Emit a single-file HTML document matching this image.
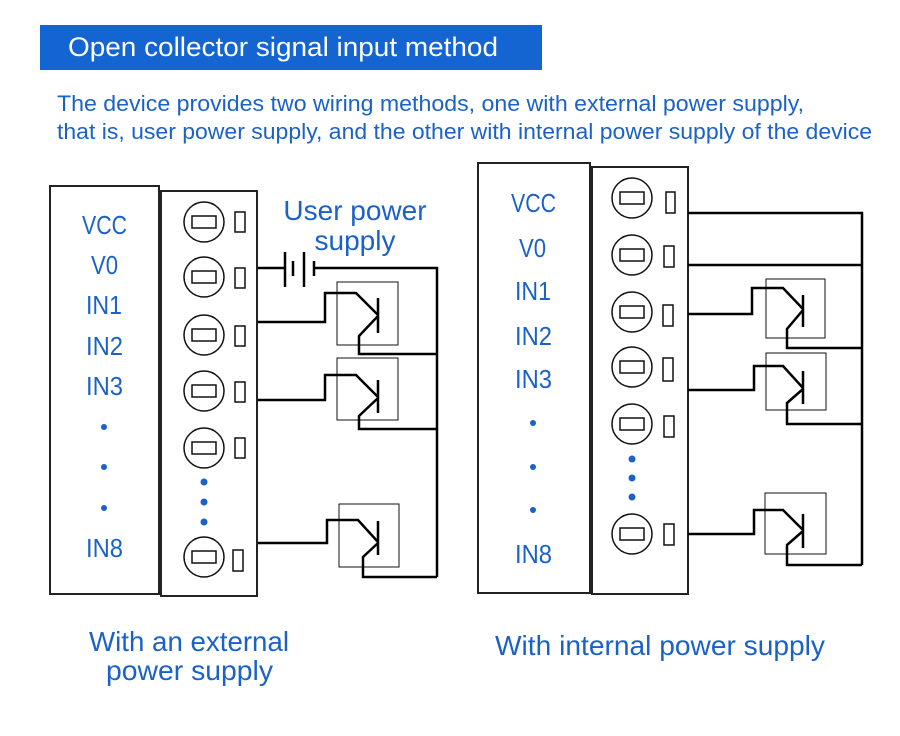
<!DOCTYPE html>
<html><head><meta charset="utf-8"><style>
html,body{margin:0;padding:0;background:#fff;}
svg{display:block;}
text{font-family:"Liberation Sans",sans-serif;}
</style></head><body>
<svg width="900" height="736" viewBox="0 0 900 736" xmlns="http://www.w3.org/2000/svg">
<rect x="40" y="25" width="502" height="45" fill="#1464d2"/>
<text x="68" y="56" font-size="27" fill="#fff" textLength="430" lengthAdjust="spacingAndGlyphs">Open collector signal input method</text>
<g fill="#1a62c8" font-size="22">
<text x="57" y="111" textLength="747" lengthAdjust="spacingAndGlyphs">The device provides two wiring methods, one with external power supply,</text>
<text x="57" y="139" textLength="815" lengthAdjust="spacingAndGlyphs">that is, user power supply, and the other with internal power supply of the device</text>
</g>

<g fill="none" stroke="#222" stroke-width="2">
<rect x="50" y="186" width="109" height="408"/>
<rect x="161" y="191" width="96" height="405"/>
<rect x="478" y="163" width="112" height="430"/>
<rect x="592" y="167" width="96" height="427"/>
</g>

<g fill="none" stroke="#111" stroke-width="1.5">
<circle cx="204" cy="222" r="20"/><rect x="192" y="216" width="24" height="12"/><rect x="235" y="212" width="10" height="20"/>
<circle cx="204" cy="277" r="20"/><rect x="192" y="271" width="24" height="12"/><rect x="235" y="268" width="10" height="20"/>
<circle cx="204" cy="335" r="20"/><rect x="192" y="329" width="24" height="12"/><rect x="235" y="326" width="10" height="20"/>
<circle cx="204" cy="391" r="20"/><rect x="192" y="385" width="24" height="12"/><rect x="235" y="382" width="10" height="20"/>
<circle cx="204" cy="448" r="20"/><rect x="192" y="442" width="24" height="12"/><rect x="235" y="438" width="10" height="20"/>
<circle cx="204" cy="557" r="20"/><rect x="192" y="551" width="24" height="12"/><rect x="233" y="550" width="10" height="21"/>

<circle cx="632" cy="198" r="20"/><rect x="620" y="192" width="24" height="12"/><rect x="666" y="192" width="9" height="21"/>
<circle cx="632" cy="255" r="20"/><rect x="620" y="249" width="24" height="12"/><rect x="664" y="246" width="10" height="21"/>
<circle cx="632" cy="312" r="20"/><rect x="620" y="306" width="24" height="12"/><rect x="663" y="305" width="10" height="21"/>
<circle cx="632" cy="367" r="20"/><rect x="620" y="361" width="24" height="12"/><rect x="663" y="358" width="10" height="23"/>
<circle cx="632" cy="424" r="20"/><rect x="620" y="418" width="24" height="12"/><rect x="664" y="416" width="10" height="21"/>
<circle cx="632" cy="534" r="20"/><rect x="620" y="528" width="24" height="12"/><rect x="664" y="524" width="10" height="21"/>
</g>
<g fill="#1a62c8">
<circle cx="204" cy="482" r="3.5"/><circle cx="204" cy="502" r="3.5"/><circle cx="204" cy="522" r="3.5"/>
<circle cx="632" cy="459" r="3.5"/><circle cx="632" cy="478" r="3.5"/><circle cx="632" cy="497" r="3.5"/>
<circle cx="104" cy="427" r="3"/><circle cx="104" cy="467" r="3"/><circle cx="104" cy="508" r="3"/>
<circle cx="533" cy="423" r="3"/><circle cx="533" cy="467" r="3"/><circle cx="533" cy="510" r="3"/>
</g>

<g fill="#1a62c8" font-size="26" lengthAdjust="spacingAndGlyphs">
<text x="82" y="234" textLength="45" lengthAdjust="spacingAndGlyphs">VCC</text>
<text x="91" y="274" textLength="27" lengthAdjust="spacingAndGlyphs">V0</text>
<text x="86" y="314" textLength="36" lengthAdjust="spacingAndGlyphs">IN1</text>
<text x="86" y="355" textLength="37" lengthAdjust="spacingAndGlyphs">IN2</text>
<text x="86" y="395" textLength="37" lengthAdjust="spacingAndGlyphs">IN3</text>
<text x="86" y="557" textLength="37" lengthAdjust="spacingAndGlyphs">IN8</text>
<text x="511" y="212" textLength="45" lengthAdjust="spacingAndGlyphs">VCC</text>
<text x="519" y="257" textLength="27" lengthAdjust="spacingAndGlyphs">V0</text>
<text x="515" y="300" textLength="36" lengthAdjust="spacingAndGlyphs">IN1</text>
<text x="515" y="345" textLength="37" lengthAdjust="spacingAndGlyphs">IN2</text>
<text x="515" y="388" textLength="37" lengthAdjust="spacingAndGlyphs">IN3</text>
<text x="515" y="563" textLength="37" lengthAdjust="spacingAndGlyphs">IN8</text>
</g>
<g fill="#1a62c8" font-size="28" text-anchor="middle">
<text x="355" y="220">User power</text><text x="355" y="250">supply</text>
</g>
<g fill="#1a62c8" font-size="28">
<text x="89" y="651" textLength="200" lengthAdjust="spacingAndGlyphs">With an external</text>
<text x="106" y="680" textLength="167" lengthAdjust="spacingAndGlyphs">power supply</text>
<text x="495" y="655" textLength="330" lengthAdjust="spacingAndGlyphs">With internal power supply</text>
</g>

<g fill="none" stroke="#111" stroke-width="1">
<rect x="337" y="282" width="61" height="63"/>
<rect x="337" y="358" width="61" height="62"/>
<rect x="339" y="504" width="60" height="63"/>
<rect x="766" y="279" width="59" height="59"/>
<rect x="766" y="353" width="60" height="57"/>
<rect x="765" y="493" width="61" height="61"/>
</g>

<g fill="none" stroke="#000" stroke-width="2.5">
<path d="M258 268H285M285 252V287M293 261V276M304 252V287M314 261V276M314 268H437V577"/>
<path d="M258 322H325V293H356L378 315M378 298V333M378 316L359 336V354H437"/>
<path d="M258 400H325V375H356L378 397M378 380V413M378 398L359 416V429H437"/>
<path d="M258 543H327V520H358L378 542M378 521V555M378 543L363 557V577H437"/>
<path d="M688 213H862V565M688 265H862"/>
<path d="M688 314H752V288H783L803 309M803 295V327M803 310L787 329V348H862"/>
<path d="M688 390H754V366H783L803 388M803 371V404M803 389L787 403V424H862"/>
<path d="M688 534H754V510H783L803 530M803 514V548M803 531L787 545V565H862"/>
</g>
</svg>
</body></html>
